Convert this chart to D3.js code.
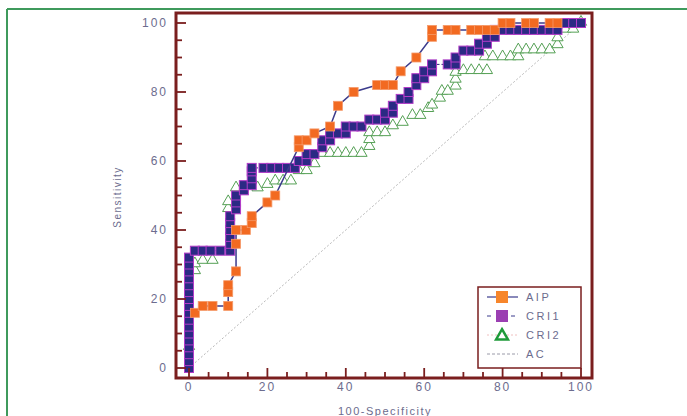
<!DOCTYPE html>
<html>
<head>
<meta charset="utf-8">
<script src="https://cdn.jsdelivr.net/npm/d3@7"></script>
<style>
  body { margin: 0; background: #fff; }
  text { font-family: "Liberation Sans", Arial, sans-serif; }
</style>
</head>
<body>
<div id="graph"></div>
<script>
// roc points, [100-specificity, sensitivity]
let aipPoints = [
  [1.5, 16], [3.5, 18], [6, 18], [10, 18], [10, 22], [10, 24], [12, 28], [12, 36],
  [12, 40], [14.5, 40], [16, 42], [16, 44], [20, 48], [22, 50], [28, 64], [28, 66],
  [30, 66], [32, 68], [36, 70], [38, 76], [42, 80], [48, 82], [50, 82], [52, 82],
  [54, 86], [58, 90], [62, 96], [62, 98], [66, 98], [68, 98], [72, 98], [74, 98],
  [76, 98], [78, 98], [80, 100], [82, 100], [86, 100], [88, 100], [92, 100], [94, 100]
];
let cri1Points = [
  [0, 0], [0, 2], [0, 4], [0, 6], [0, 8], [0, 10], [0, 12], [0, 14], [0, 16], [0, 18],
  [0, 20], [0, 22], [0, 24], [0, 26], [0, 28], [0, 30], [0, 32],
  [1.5, 34], [3.5, 34], [5.5, 34], [8, 34], [10.5, 34], [10.5, 36], [10.5, 38],
  [10.5, 40], [10.5, 42], [10.5, 44], [12, 46], [12, 48], [12, 50], [14, 51.5],
  [14, 53], [16, 53], [16, 55], [16, 57], [16, 58], [19, 58], [21, 58], [23, 58],
  [25, 58], [27, 58], [28, 60], [30, 60], [30, 62], [32, 62], [34, 64], [34, 66],
  [36, 66], [36, 68], [38, 68], [40, 68], [40, 70], [42, 70], [44, 70], [46, 72],
  [48, 72], [50, 72], [50, 74], [52, 74], [52, 76], [54, 78], [56, 78], [56, 80],
  [58, 82], [58, 84], [60, 84], [60, 86], [62, 86], [62, 88], [66, 88], [68, 88],
  [68, 90], [70, 92], [72, 92], [74, 92], [74, 94], [76, 94], [76, 96], [78, 96],
  [78, 98], [80, 98], [82, 98], [84, 98], [86, 98], [88, 98], [90, 98], [92, 98],
  [94, 98], [96, 100], [98, 100], [100, 100]
];
let cri2Points = [
  [0, 6], [1.5, 28], [1.5, 30], [3.5, 31], [6, 31], [10, 46], [10, 48], [12, 52],
  [17.5, 52], [20, 53], [22, 54], [24, 54], [26, 54], [28, 57], [30, 57], [32, 59],
  [34, 62], [36, 62], [38, 62], [40, 62], [42, 62], [44, 62], [46, 64], [46, 66],
  [46, 68], [48, 68], [50, 68], [52, 70], [54.5, 71], [57, 73], [59, 73], [61, 75],
  [62, 76], [64, 78], [64.5, 80], [66, 80], [68, 81.5], [68, 83.5], [68, 85.5],
  [70, 86], [72, 86], [74, 86], [76, 86], [75.5, 90], [77.5, 90], [80, 90], [82, 90],
  [84, 90], [84, 92], [86, 92], [88, 92], [90, 92], [92, 92], [94, 93.5], [94, 95.5],
  [96, 98], [98, 98], [100, 100]
];
let acPoints = [[0, 0], [100, 100]];

let xTicks = [0, 20, 40, 60, 80, 100];
let yTicks = [0, 20, 40, 60, 80, 100];
let minorTicks = d3.range(0, 101, 5);
let legendNames = ["AIP", "CRI1", "CRI2", "AC"];

let labelColor = "#6c6c8e";
let frameColor = "#7a1e1e";

function setupSVG() {
  let svg = d3
    .select("#graph")
    .append("svg")
    .attr("width", 687)
    .attr("height", 416);

  // green page frame, only top and left visible
  svg.append("line").attr("x1", 7).attr("x2", 687).attr("y1", 9).attr("y2", 9)
    .attr("stroke", "#3f9a5c").attr("stroke-width", 2);
  svg.append("line").attr("x1", 7).attr("x2", 7).attr("y1", 9).attr("y2", 416)
    .attr("stroke", "#3f9a5c").attr("stroke-width", 2);
  return svg;
}

function addAxes(svg, x, y, frame) {
  // minor and major ticks, pointing inward from the frame
  let g = svg.append("g");
  g.selectAll(".xminor").data(minorTicks).join("line")
    .attr("x1", (d) => x(d)).attr("x2", (d) => x(d))
    .attr("y1", frame.bottom).attr("y2", (d) => frame.bottom - (d % 20 === 0 ? 10 : 6))
    .attr("stroke", frameColor).attr("stroke-width", 1.8);
  g.selectAll(".yminor").data(minorTicks).join("line")
    .attr("y1", (d) => y(d)).attr("y2", (d) => y(d))
    .attr("x1", frame.left).attr("x2", (d) => frame.left + (d % 20 === 0 ? 10 : 6))
    .attr("stroke", frameColor).attr("stroke-width", 1.8);

  g.selectAll(".xlab").data(xTicks).join("text")
    .attr("x", (d) => x(d)).attr("y", frame.bottom + 13)
    .attr("text-anchor", "middle").attr("font-size", 12)
    .attr("letter-spacing", 2).attr("fill", labelColor)
    .text((d) => d);
  g.selectAll(".ylab").data(yTicks).join("text")
    .attr("x", frame.left - 8).attr("y", (d) => y(d) + 4)
    .attr("text-anchor", "end").attr("font-size", 12)
    .attr("letter-spacing", 2).attr("fill", labelColor)
    .text((d) => d);

  // axis titles
  svg.append("text").attr("x", 385).attr("y", 415)
    .attr("text-anchor", "middle").attr("font-size", 11)
    .attr("letter-spacing", 1.5).attr("fill", labelColor)
    .text("100-Specificity");
  svg.append("text")
    .attr("transform", "translate(121,197) rotate(-90)")
    .attr("text-anchor", "middle").attr("font-size", 10)
    .attr("letter-spacing", 1.5).attr("fill", labelColor)
    .text("Sensitivity");
}

function addSeries(svg, x, y) {
  let line = d3.line().x((d) => x(d[0])).y((d) => y(d[1]));

  // chance diagonal
  svg.append("path").datum(acPoints).attr("d", line)
    .attr("fill", "none").attr("stroke", "#b8b8b8")
    .attr("stroke-width", 1).attr("stroke-dasharray", "2,2");

  // cri2 open triangles
  let tri = d3.symbol().type(d3.symbolTriangle).size(55);
  svg.append("g").selectAll("path").data(cri2Points).join("path")
    .attr("d", tri)
    .attr("transform", (d) => `translate(${x(d[0])},${y(d[1]) - 1})`)
    .attr("fill", "#fff").attr("stroke", "#55a055").attr("stroke-width", 1);

  // cri1 navy squares with magenta edge
  svg.append("path").datum(cri1Points).attr("d", line)
    .attr("fill", "none").attr("stroke", "#2b2a7e").attr("stroke-width", 1)
    .attr("stroke-dasharray", "3,2");
  svg.append("g").selectAll("rect").data(cri1Points).join("rect")
    .attr("x", (d) => x(d[0]) - 4.5).attr("y", (d) => y(d[1]) - 4.5)
    .attr("width", 9).attr("height", 9)
    .attr("fill", "#2b2a84").attr("stroke", "#b23cc8").attr("stroke-width", 1);

  // aip orange squares on a navy line
  svg.append("path").datum(aipPoints).attr("d", line)
    .attr("fill", "none").attr("stroke", "#3b3b8c").attr("stroke-width", 1.5);
  svg.append("g").selectAll("rect").data(aipPoints).join("rect")
    .attr("x", (d) => x(d[0]) - 4.5).attr("y", (d) => y(d[1]) - 4.5)
    .attr("width", 9).attr("height", 9)
    .attr("fill", "#f26a21").attr("stroke", "#f59a6a").attr("stroke-width", 0.8);
}

function addLegend(svg) {
  let lx = 478, ly = 287;
  let g = svg.append("g");
  g.append("rect").attr("x", lx).attr("y", ly).attr("width", 103).attr("height", 81)
    .attr("fill", "#fff").attr("stroke", frameColor).attr("stroke-width", 1.5);

  let rowY = (i) => ly + 10 + i * 19;
  let cx = 502;

  // AIP
  g.append("line").attr("x1", 487).attr("x2", 518).attr("y1", rowY(0)).attr("y2", rowY(0))
    .attr("stroke", "#3b3b8c").attr("stroke-width", 1.2);
  g.append("rect").attr("x", cx - 6).attr("y", rowY(0) - 6).attr("width", 12).attr("height", 12)
    .attr("fill", "#f7862b");
  // CRI1
  g.append("line").attr("x1", 487).attr("x2", 518).attr("y1", rowY(1)).attr("y2", rowY(1))
    .attr("stroke", "#3b3b8c").attr("stroke-width", 1).attr("stroke-dasharray", "4,8");
  g.append("rect").attr("x", cx - 6).attr("y", rowY(1) - 6).attr("width", 12).attr("height", 12)
    .attr("fill", "#9b3fb2");
  // CRI2
  g.append("line").attr("x1", 487).attr("x2", 518).attr("y1", rowY(2)).attr("y2", rowY(2))
    .attr("stroke", "#f0c0c0").attr("stroke-width", 1).attr("stroke-dasharray", "2,2");
  g.append("path").attr("d", d3.symbol().type(d3.symbolTriangle).size(60))
    .attr("transform", `translate(${cx},${rowY(2) + 1})`)
    .attr("fill", "#fff").attr("stroke", "#1f9a3a").attr("stroke-width", 2.5);
  // AC
  g.append("line").attr("x1", 487).attr("x2", 518).attr("y1", rowY(3)).attr("y2", rowY(3))
    .attr("stroke", "#9a9aa8").attr("stroke-width", 1).attr("stroke-dasharray", "3,2");

  g.selectAll(".lt").data(legendNames).join("text")
    .attr("x", 526).attr("y", (d, i) => rowY(i) + 4)
    .attr("font-size", 11).attr("letter-spacing", 2.5).attr("fill", labelColor)
    .text((d) => d);
}

function runGraph() {
  let svg = setupSVG();

  // plot frame and scales
  let frame = { left: 176, right: 592, top: 13, bottom: 378 };
  let x = d3.scaleLinear().domain([0, 100]).range([189, 581]);
  let y = d3.scaleLinear().domain([0, 100]).range([368, 23]);

  svg.append("rect").attr("x", frame.left).attr("y", frame.top)
    .attr("width", frame.right - frame.left).attr("height", frame.bottom - frame.top)
    .attr("fill", "#fff").attr("stroke", frameColor).attr("stroke-width", 3);

  addSeries(svg, x, y);
  addAxes(svg, x, y, frame);
  addLegend(svg);
}

runGraph();
</script>
</body>
</html>
